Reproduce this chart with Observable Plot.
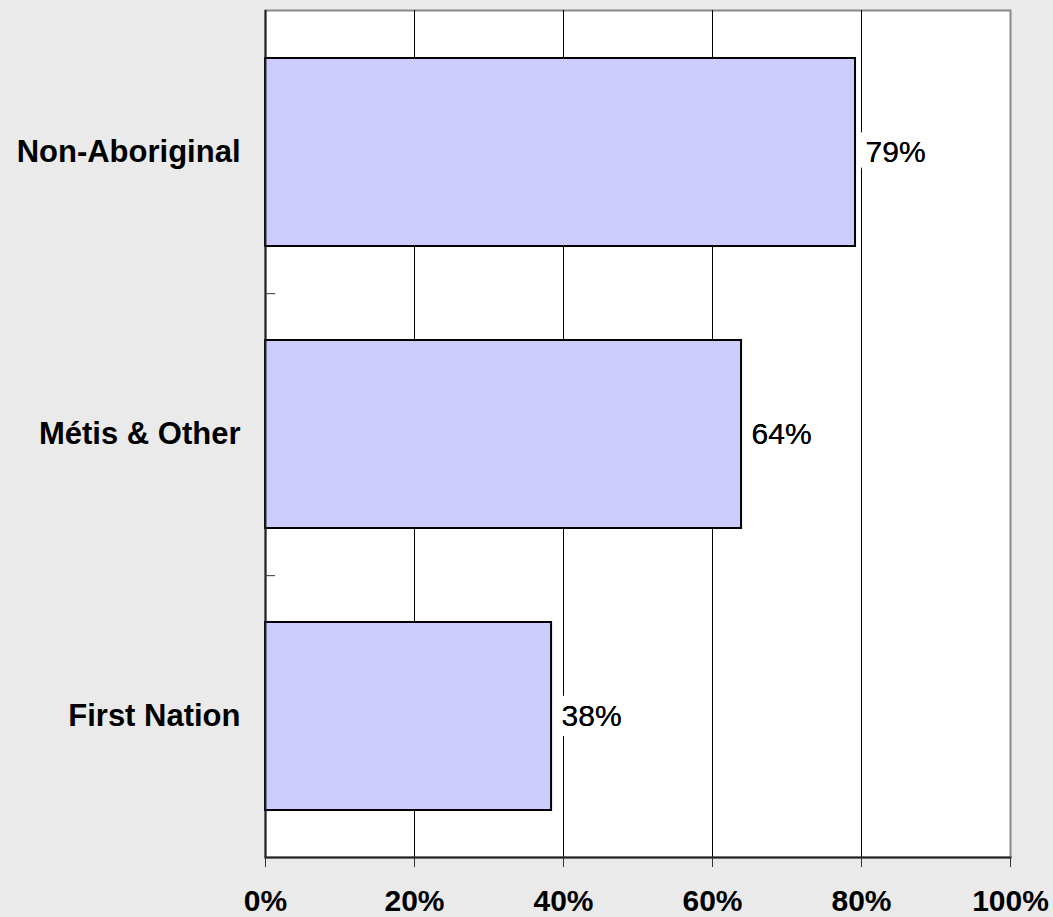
<!DOCTYPE html>
<html>
<head>
<meta charset="utf-8">
<script src="https://cdn.jsdelivr.net/npm/d3@7"></script>
<script src="https://cdn.jsdelivr.net/npm/@observablehq/plot@0.6"></script>
<style>
  html, body { margin: 0; padding: 0; background: #eaeaea; }
  #chart { width: 1053px; height: 917px; }
</style>
</head>
<body>
<div id="chart"></div>
<script>
const categories = ["Non-Aboriginal", "Métis & Other", "First Nation"];
const values = [79.2, 63.9, 38.4];
const xTicks = [0, 20, 40, 60, 80, 100];
const gridTicks = [20, 40, 60, 80];

const data = categories.map((c, i) => ({category: c, value: values[i]}));

const W = 1053, H = 917;
const margin = {top: 10, right: 43, bottom: 60, left: 265};
const step = (H - margin.top - margin.bottom) / categories.length;
const font = "'Liberation Sans', Arial, sans-serif";

const chart = Plot.plot({
  width: W,
  height: H,
  marginTop: margin.top,
  marginRight: margin.right,
  marginBottom: margin.bottom,
  marginLeft: margin.left,
  style: {background: "#eaeaea", fontFamily: font, color: "black", overflow: "visible"},
  x: {domain: [0, 100]},
  y: {domain: categories, paddingInner: 1/3, paddingOuter: 1/6},
  marks: [
    Plot.frame({fill: "white", stroke: "#888", strokeWidth: 2}),
    Plot.gridX(gridTicks, {stroke: "black", strokeOpacity: 1, strokeWidth: 1}),
    Plot.text(data, {
      x: "value", y: "category",
      text: d => Math.round(d.value) + "%",
      textAnchor: "start", dx: 10,
      fontSize: 30, fill: "black",
      stroke: "white", strokeWidth: 22, paintOrder: "stroke"
    }),
    Plot.barX(data, {x: "value", y: "category", fill: "#ccccff", stroke: "black", strokeWidth: 2}),
    Plot.text(data, {
      x: "value", y: "category",
      text: d => Math.round(d.value) + "%",
      textAnchor: "start", dx: 10,
      fontSize: 30, fill: "black"
    }),
    Plot.ruleX([0], {stroke: "#222", strokeWidth: 2}),
    Plot.frame({anchor: "bottom", stroke: "#222", strokeWidth: 2}),
    Plot.axisX(xTicks, {
      tickSize: 10, tickPadding: 22, tickFormat: d => d + "%",
      fontSize: 30, fontWeight: "bold", label: null, stroke: "#333"
    }),
    Plot.axisY({
      tickSize: 0, tickPadding: 25, fontSize: 31, fontWeight: "bold", label: null
    }),
    Plot.axisY(categories.slice(0, 2), {
      tickSize: -10, text: null, dy: step / 2, stroke: "#333", label: null
    })
  ]
});
document.getElementById("chart").appendChild(chart);
</script>
</body>
</html>
